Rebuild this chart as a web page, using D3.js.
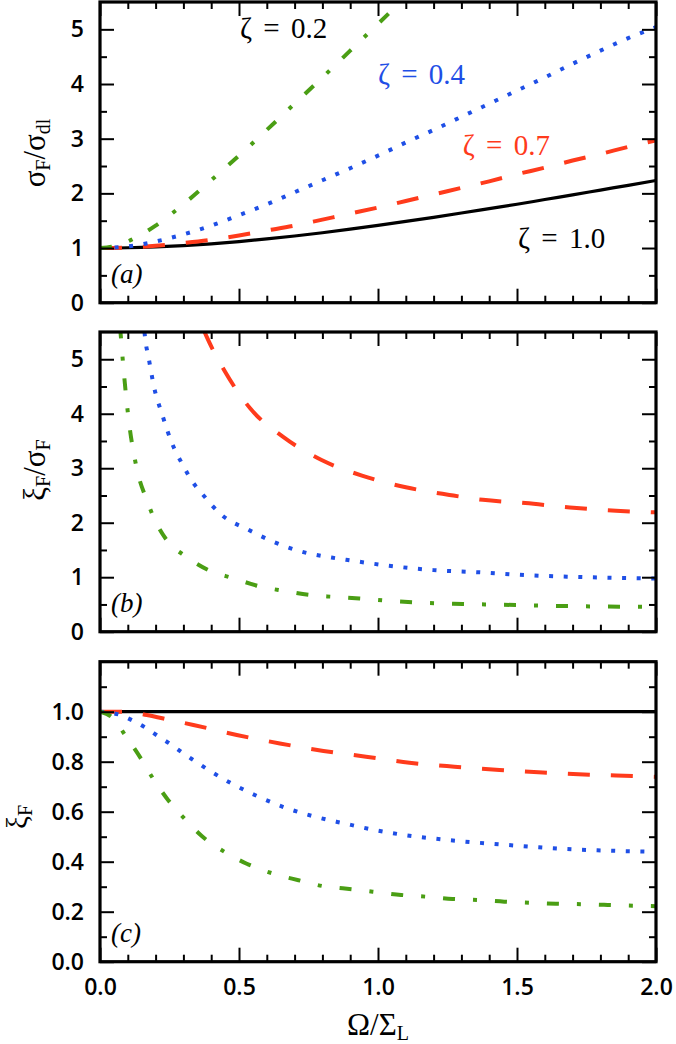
<!DOCTYPE html>
<html>
<head>
<meta charset="utf-8">
<script src="https://cdn.jsdelivr.net/npm/d3@7"></script>
<style>
  html, body { margin: 0; padding: 0; background: #fff; }
  svg { display: block; }
</style>
</head>
<body>
<svg id="chart" width="676" height="1044"></svg>
<script>
// ---------------- DATA ----------------
const zetaLabels = ["ζ = 0.2", "ζ = 0.4", "ζ = 0.7", "ζ = 1.0"];
const xTickLabels = ["0.0", "0.5", "1.0", "1.5", "2.0"];

// Panel (a): sigma_F / sigma_dl
const aX = [0, 0.1, 0.2, 0.3, 0.4, 0.5, 0.6, 0.7, 0.8, 0.9, 1.0, 1.1, 1.2, 1.3, 1.4, 1.5, 1.6, 1.7, 1.8, 1.9, 2.0];
const aZeta10 = [1.0, 1.005, 1.02, 1.044, 1.077, 1.118, 1.166, 1.22, 1.28, 1.345, 1.414, 1.487, 1.562, 1.64, 1.72, 1.80, 1.887, 1.972, 2.06, 2.147, 2.236];
const aZeta07 = [1.0, 1.01, 1.04, 1.09, 1.15, 1.23, 1.32, 1.41, 1.52, 1.63, 1.74, 1.86, 1.98, 2.10, 2.22, 2.35, 2.47, 2.60, 2.72, 2.85, 2.97];
const aZeta04 = [1.0, 1.03, 1.12, 1.25, 1.41, 1.60, 1.80, 2.02, 2.24, 2.46, 2.69, 2.93, 3.16, 3.40, 3.64, 3.88, 4.12, 4.37, 4.61, 4.84, 5.04];
const aX02 = [0, 0.05, 0.1, 0.15, 0.2, 0.3, 0.4, 0.5, 0.6, 0.7, 0.8, 0.9, 1.0, 1.1];
const aZeta02 = [1.0, 1.03, 1.12, 1.25, 1.41, 1.80, 2.24, 2.69, 3.16, 3.64, 4.12, 4.61, 5.10, 5.59];

// Panel (b): xi_F / sigma_F
const bX07 = [0.372, 0.384, 0.45, 0.54, 0.66, 0.797, 0.945, 1.10, 1.257, 1.377, 1.53, 1.69, 1.856, 2.0];
const bZeta07 = [5.55, 5.41, 4.77, 4.10, 3.57, 3.15, 2.86, 2.65, 2.51, 2.42, 2.36, 2.28, 2.22, 2.19];
const bX04 = [0.16, 0.164, 0.174, 0.194, 0.224, 0.258, 0.3, 0.333, 0.366, 0.438, 0.534, 0.624, 0.725, 0.833, 0.885, 1.04, 1.2, 1.364, 1.526, 1.68, 1.84, 2.0];
const bZeta04 = [5.5, 5.32, 5.05, 4.5, 3.98, 3.47, 3.04, 2.75, 2.54, 2.14, 1.87, 1.65, 1.47, 1.36, 1.32, 1.21, 1.13, 1.09, 1.04, 1.01, 0.99, 0.975];
const bX02 = [0.072, 0.074, 0.084, 0.102, 0.132, 0.168, 0.2, 0.24, 0.312, 0.39, 0.48, 0.576, 0.66, 0.761, 0.839, 0.933, 1.029, 1.124, 1.304, 1.496, 1.676, 1.868, 2.0];
const bZeta02 = [5.6, 5.48, 4.86, 3.94, 3.0, 2.42, 2.02, 1.68, 1.37, 1.13, 0.98, 0.83, 0.75, 0.67, 0.64, 0.61, 0.57, 0.54, 0.51, 0.49, 0.47, 0.46, 0.455];

// Panel (c): xi_F
const cX10 = [0, 2.0];
const cZeta10 = [1.0, 1.0];
const cX07 = [0, 0.09, 0.168, 0.252, 0.336, 0.492, 0.647, 0.804, 0.957, 1.113, 1.275, 1.437, 1.593, 1.76, 1.916, 2.0];
const cZeta07 = [1.0, 1.0, 0.987, 0.967, 0.947, 0.907, 0.873, 0.843, 0.82, 0.796, 0.78, 0.767, 0.757, 0.748, 0.743, 0.74];
const cX04 = [0, 0.072, 0.12, 0.168, 0.212, 0.258, 0.3, 0.345, 0.39, 0.48, 0.576, 0.674, 0.773, 0.879, 0.987, 1.088, 1.197, 1.304, 1.406, 1.514, 1.676, 1.832, 2.0];
const cZeta04 = [1.0, 0.987, 0.963, 0.933, 0.9, 0.867, 0.833, 0.8, 0.767, 0.709, 0.657, 0.613, 0.58, 0.553, 0.527, 0.508, 0.493, 0.481, 0.472, 0.463, 0.451, 0.444, 0.44];
const cX02 = [0, 0.048, 0.09, 0.144, 0.19, 0.24, 0.306, 0.366, 0.453, 0.528, 0.624, 0.714, 0.804, 0.873, 0.981, 1.083, 1.173, 1.268, 1.358, 1.454, 1.544, 1.64, 1.73, 1.826, 1.916, 2.0];
const cZeta02 = [1.0, 0.973, 0.907, 0.818, 0.734, 0.654, 0.57, 0.503, 0.436, 0.392, 0.352, 0.326, 0.302, 0.294, 0.28, 0.267, 0.26, 0.251, 0.247, 0.24, 0.236, 0.232, 0.23, 0.227, 0.224, 0.222];

const yTicksAB = [0, 1, 2, 3, 4, 5];
const yTicksC = [0, 0.2, 0.4, 0.6, 0.8, 1.0];

// ---------------- STYLES ----------------
const COL = { z02: "#4a9e14", z04: "#1f4fe6", z07: "#ff3b1c", z10: "#000000" };
const STYLE = {
  z02: { color: COL.z02, dash: "12,18,4,18", width: 4 },
  z04: { color: COL.z04, dash: "4,10.6", width: 4 },
  z07: { color: COL.z07, dash: "22,21", width: 4 },
  z10: { color: COL.z10, dash: null, width: 3.2 }
};
const SANS = "'Open Sans', 'Liberation Sans', Arial, sans-serif";
const SERIF = "'Liberation Serif', 'Times New Roman', serif";

const svg = d3.select("#chart");
const x = d3.scaleLinear().domain([0, 2]).range([100, 656]);
const zip = (xs, ys) => xs.map((v, i) => [v, ys[i]]);

const panels = [
  { id: "a", top: 2, bottom: 302.7, ymax: 5.5, major: yTicksAB, minor: d3.range(0.5, 5.5, 1), fmt: d3.format("d"),
    series: [
      { s: "z10", d: zip(aX, aZeta10) },
      { s: "z07", d: zip(aX, aZeta07) },
      { s: "z04", d: zip(aX, aZeta04) },
      { s: "z02", d: zip(aX02, aZeta02) }
    ] },
  { id: "b", top: 332, bottom: 631.7, ymax: 5.5, major: yTicksAB, minor: d3.range(0.5, 5.5, 1), fmt: d3.format("d"),
    series: [
      { s: "z07", d: zip(bX07, bZeta07) },
      { s: "z04", d: zip(bX04, bZeta04) },
      { s: "z02", d: zip(bX02, bZeta02) }
    ] },
  { id: "c", top: 661.7, bottom: 961.7, ymax: 1.2, major: yTicksC, minor: [0.1, 0.3, 0.5, 0.7, 0.9, 1.1], fmt: d3.format(".1f"),
    series: [
      { s: "z10", d: zip(cX10, cZeta10) },
      { s: "z07", d: zip(cX07, cZeta07) },
      { s: "z04", d: zip(cX04, cZeta04) },
      { s: "z02", d: zip(cX02, cZeta02) }
    ] }
];

const xMajor = [0, 0.5, 1.0, 1.5, 2.0];
const xMinor = d3.range(0, 21).map(i => i / 10).filter(v => Math.abs(v * 2 - Math.round(v * 2)) > 1e-6);

panels.forEach((p, pi) => {
  const y = d3.scaleLinear().domain([0, p.ymax]).range([p.bottom, p.top]);
  p.y = y;
  const g = svg.append("g");

  svg.append("clipPath").attr("id", "clip-" + p.id)
    .append("rect").attr("x", x(0)).attr("y", p.top).attr("width", x(2) - x(0)).attr("height", p.bottom - p.top);

  const line = d3.line().x(d => x(d[0])).y(d => y(d[1])).curve(d3.curveMonotoneX);
  const lg = g.append("g").attr("clip-path", `url(#clip-${p.id})`);
  p.series.forEach(se => {
    const st = STYLE[se.s];
    lg.append("path").datum(se.d)
      .attr("d", line)
      .attr("fill", "none")
      .attr("stroke", st.color)
      .attr("stroke-width", st.width)
      .attr("stroke-dasharray", st.dash)
      .attr("stroke-linecap", "butt");
  });

  function addAxis(axis, tx, ty, labels) {
    const ag = g.append("g").attr("transform", `translate(${tx},${ty})`).call(axis);
    ag.select(".domain").remove();
    ag.selectAll(".tick line").attr("stroke", "#000").attr("stroke-width", 2);
    if (!labels) ag.selectAll(".tick text").remove();
    else ag.selectAll(".tick text").attr("font-family", SANS).attr("font-weight", 600)
      .attr("font-size", 23).attr("fill", "#000");
    return ag;
  }
  addAxis(d3.axisLeft(y).tickValues(p.major).tickFormat(p.fmt).tickSize(-14).tickPadding(16), x(0), 0, true);
  addAxis(d3.axisLeft(y).tickValues(p.minor).tickFormat("").tickSize(-7), x(0), 0, false);
  addAxis(d3.axisRight(y).tickValues(p.major).tickFormat("").tickSize(-14), x(2), 0, false);
  addAxis(d3.axisRight(y).tickValues(p.minor).tickFormat("").tickSize(-7), x(2), 0, false);
  addAxis(d3.axisTop(x).tickValues(xMajor).tickFormat("").tickSize(-14), 0, p.top, false);
  addAxis(d3.axisTop(x).tickValues(xMinor).tickFormat("").tickSize(-7), 0, p.top, false);
  const isLast = pi === panels.length - 1;
  const bx = addAxis(d3.axisBottom(x).tickValues(xMajor).tickFormat((d, i) => xTickLabels[i]).tickSize(-14).tickPadding(17), 0, p.bottom, isLast);
  if (isLast) bx.selectAll(".tick text").attr("dy", "0.71em");
  addAxis(d3.axisBottom(x).tickValues(xMinor).tickFormat("").tickSize(-7), 0, p.bottom, false);

  g.append("rect").attr("x", x(0)).attr("y", p.top).attr("width", x(2) - x(0)).attr("height", p.bottom - p.top)
    .attr("fill", "none").attr("stroke", "#000").attr("stroke-width", 3.2);

  g.append("text").attr("x", 111).attr("y", p.bottom - 20)
    .attr("font-family", SERIF).attr("font-style", "italic").attr("font-size", 27).attr("fill", "#000")
    .text(`(${p.id})`);
});

// ---------- y-axis titles ----------
function yTitle(cx, cy, parts, size) {
  const t = svg.append("text")
    .attr("transform", `translate(${cx},${cy}) rotate(-90)`)
    .attr("text-anchor", "middle")
    .attr("font-family", SERIF).attr("font-size", size).attr("fill", "#000");
  parts.forEach(pt => {
    const ts = t.append("tspan").text(pt.t);
    if (pt.sub) ts.attr("font-size", 20).attr("dy", 5);
    else if (pt.after) ts.attr("dy", -5);
  });
  return t;
}
yTitle(45, 153, [{ t: "σ" }, { t: "F", sub: true }, { t: "/σ", after: true }, { t: "dl", sub: true }], 31);
yTitle(45, 470, [{ t: "ξ" }, { t: "F", sub: true }, { t: "/σ", after: true }, { t: "F", sub: true }], 31);
yTitle(27, 817, [{ t: "ξ" }, { t: "F", sub: true }], 29);

// ---------- x-axis title ----------
const xt = svg.append("text").attr("x", x(1)).attr("y", 1035).attr("text-anchor", "middle")
  .attr("font-family", SERIF).attr("font-size", 31).attr("fill", "#000");
xt.append("tspan").text("Ω/Σ");
xt.append("tspan").text("L").attr("font-size", 20).attr("dy", 5);

// ---------- annotations in panel (a) ----------
const pa = panels[0];
const ann = [
  { t: zetaLabels[0], c: "#000000", xv: 0.504, yv: 4.85 },
  { t: zetaLabels[1], c: COL.z04, xv: 1.0, yv: 4.0 },
  { t: zetaLabels[2], c: COL.z07, xv: 1.305, yv: 2.7 },
  { t: zetaLabels[3], c: COL.z10, xv: 1.504, yv: 1.0 }
];
ann.forEach(a => {
  svg.append("text").attr("x", x(a.xv)).attr("y", pa.y(a.yv))
    .attr("font-family", SERIF).attr("font-size", 29).attr("fill", a.c)
    .style("word-spacing", "4px")
    .text(a.t);
});
</script>
</body>
</html>
